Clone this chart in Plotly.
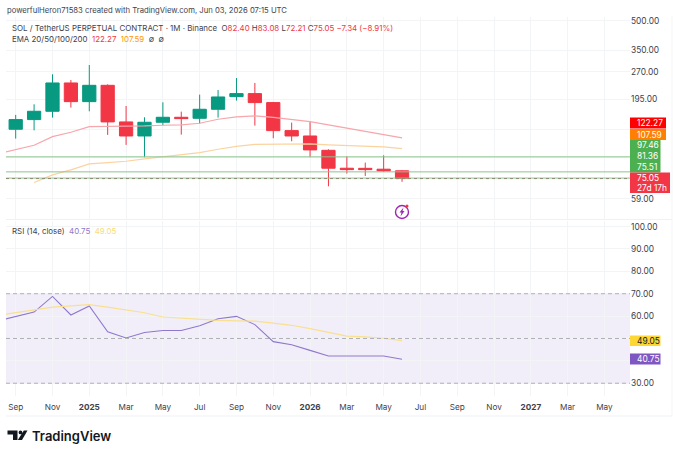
import plotly.graph_objects as go

W, H = 680, 455

# ---- data
month_labels = ["Sep","Nov","2025","Mar","May","Jul","Sep","Nov","2026","Mar","May","Jul","Sep","Nov","2027","Mar","May"]
month_positions = [0,2,4,6,8,10,12,14,16,18,20,22,24,26,28,30,32]
candle_x = list(range(22))
opens  = [135.7,152.4,168.4,236.6,189.1,230.0,148.2,125.2,147.6,156.7,154.8,172.5,200.8,208.2,186.9,133.5,125.2,105.4,85.0,84.9,84.0,82.40]
highs  = [161.2,183.1,262.5,245.0,293.6,232.8,179.5,156.7,187.6,167.7,205.7,217.5,251.0,236.6,188.4,147.0,148.8,106.7,98.1,90.9,99.3,83.08]
lows   = [121.3,134.0,156.1,176.0,168.4,126.8,112.5,97.0,142.4,127.3,145.2,156.1,191.4,141.8,121.8,117.5,97.0,68.4,79.7,77.5,81.3,72.21]
closes = [152.4,168.4,236.6,189.1,230.0,148.2,125.2,147.6,156.7,154.2,172.5,200.0,208.2,186.9,133.5,125.2,105.9,85.0,83.6,83.6,82.4,75.05]

ema20_x = list(range(-1,22))
ema20 = [100.9,106.3,112.0,124.2,130.9,140.1,140.1,140.1,141.2,142.4,142.9,145.8,153.0,157.3,159.2,156.7,152.4,148.8,142.9,137.3,132.5,127.8,122.27]
ema50_x = list(range(1,22))
ema50 = [71.6,78.5,83.3,89.5,91.0,92.4,95.0,97.7,99.7,102.6,106.7,110.6,113.3,113.8,114.2,113.8,112.5,111.5,110.6,109.8,107.59]

rsi_x = list(range(-1,22))
rsi = [57.8,59.7,61.8,68.8,60.5,64.5,53.0,50.2,52.7,53.6,53.6,55.7,58.8,59.9,56.2,48.6,47.2,44.7,42.2,42.2,42.1,42.2,40.75]
rsi_ma = [60.3,61.5,62.6,64.0,64.6,65.1,64.0,62.9,61.5,59.6,59.0,58.5,58.1,57.9,57.8,56.9,55.9,54.4,52.9,51.1,50.7,50.1,49.05]

price_ticks = [500,350,270,195,59]
price_grid = [135,97]
rsi_ticks = [100,90,80,70,60,30]
rsi_grid = [50,40]
level_lines = [97.46,81.36,75.51]
last_close = 75.05

UP, DOWN = "#089981", "#F23645"
EMA20C, EMA50C = "#F7A6AC", "#FBD3A0"
RSI_C, RSI_MA_C = "#8F78CC", "#F8E08E"
GRID = "#F3F4F6"
TXT = "#3F424B"
FONT = "Inter, 'Open Sans', sans-serif"

def px(x): return x / W
def py(y): return 1 - y / H

fig = go.Figure()
fig.add_trace(go.Candlestick(x=candle_x, open=opens, high=highs, low=lows, close=closes, xaxis="x", yaxis="y",
    whiskerwidth=0,
    increasing=dict(line=dict(color=UP, width=1), fillcolor=UP),
    decreasing=dict(line=dict(color=DOWN, width=1), fillcolor=DOWN),
    showlegend=False))
fig.add_trace(go.Scatter(x=ema20_x, y=ema20, mode="lines", line=dict(color=EMA20C, width=1.2), xaxis="x", yaxis="y"))
fig.add_trace(go.Scatter(x=ema50_x, y=ema50, mode="lines", line=dict(color=EMA50C, width=1.2), xaxis="x", yaxis="y"))
fig.add_trace(go.Scatter(x=rsi_x, y=rsi, mode="lines", line=dict(color=RSI_C, width=1.1), xaxis="x", yaxis="y2"))
fig.add_trace(go.Scatter(x=rsi_x, y=rsi_ma, mode="lines", line=dict(color=RSI_MA_C, width=1.2), xaxis="x", yaxis="y2"))

shapes = []
for v in level_lines:
    shapes.append(dict(type="line", xref="x domain", x0=0, x1=1, yref="y", y0=v, y1=v, line=dict(color="#8CC58F", width=1), layer="above"))
shapes.append(dict(type="line", xref="x domain", x0=0, x1=1, yref="y", y0=last_close, y1=last_close, line=dict(color="#8A8A70", width=1, dash="dot"), layer="above"))
# RSI zone
shapes.append(dict(type="rect", xref="x domain", x0=0, x1=1, yref="y2", y0=30, y1=70, fillcolor="rgba(126,87,194,0.10)", line=dict(width=0), layer="below"))
for v in (70, 50, 30):
    shapes.append(dict(type="line", xref="x domain", x0=0, x1=1, yref="y2", y0=v, y1=v, line=dict(color="#B0B0B8", width=1, dash="4px,3px"), layer="above"))
# pane separators
for y in (219.5, 416):
    shapes.append(dict(type="line", xref="paper", yref="paper", x0=px(6), x1=px(672), y0=py(y), y1=py(y), line=dict(color="#F0F1F3", width=1)))
shapes.append(dict(type="line", xref="paper", yref="paper", x0=px(672), x1=px(672), y0=py(16), y1=py(416), line=dict(color="#F5F5F7", width=1)))

# price label boxes
def box(y0, y1, x1, color):
    shapes.append(dict(type="rect", xref="paper", yref="paper", x0=px(630), x1=px(x1), y0=py(y0), y1=py(y1), fillcolor=color, line=dict(width=0), layer="above"))
box(117.5, 128.5, 666, "#FF0000")
box(129, 140, 666, "#FF7F00")
box(140, 172.5, 660.5, "#4CAF50")
box(172.5, 193, 670, "#F23645")
box(335.5, 346, 660.5, "#FDD835")
box(353.5, 364.5, 660.5, "#7E57C2")
# flash icon
shapes.append(dict(type="circle", xref="paper", yref="paper", x0=px(395.5), x1=px(408.5), y0=py(205.5), y1=py(218.5), line=dict(color="#9C27B0", width=1.4), fillcolor="white"))
shapes.append(dict(type="path", xref="paper", yref="paper",
    path="M %f %f L %f %f L %f %f L %f %f L %f %f L %f %f Z" % (px(403.5),py(207.5),px(399.5),py(212.5),px(401.5),py(212.5),px(400.5),py(216.5),px(404.5),py(211),px(402.5),py(211)),
    fillcolor="#9C27B0", line=dict(width=0)))
shapes.append(dict(type="circle", xref="paper", yref="paper", x0=px(405.5), x1=px(408.5), y0=py(204.5), y1=py(207.5), fillcolor="#F23645", line=dict(width=0)))
# TradingView logo
def poly(pts, c="#131722"):
    p = "M " + " L ".join("%f %f" % (px(a), py(b)) for a, b in pts) + " Z"
    shapes.append(dict(type="path", xref="paper", yref="paper", path=p, fillcolor=c, line=dict(width=0)))
poly([(7.5,430.5),(17.5,430.5),(17.5,440),(13,440),(13,434.5),(7.5,434.5)])
poly([(23.8,430.5),(27.5,430.5),(22,440),(17.8,440)])
shapes.append(dict(type="circle", xref="paper", yref="paper", x0=px(18.6), x1=px(22.4), y0=py(430.5), y1=py(434.3), fillcolor="#131722", line=dict(width=0)))

ann = []
def text(x, y, s, size=8.4, color=TXT, anchor="left", **kw):
    f = dict(size=size, color=color, family=FONT)
    f.update(kw)
    ann.append(dict(xref="paper", yref="paper", x=px(x), y=py(y), text=s, showarrow=False, xanchor=anchor, yanchor="middle", font=f))
R = "#F23645"
O = "#FF9800"
text(5, 10, "powerfulHeron71583 created with TradingView.com, Jun 03, 2026 07:15 UTC", size=7.7)
text(10, 27.5, f"SOL / TetherUS PERPETUAL CONTRACT · 1M · Binance  O<span style='color:{R}'>82.40</span> H<span style='color:{R}'>83.08</span> L<span style='color:{R}'>72.21</span> C<span style='color:{R}'>75.05</span> <span style='color:{R}'>−7.34 (−8.91%)</span>", size=7.9)
text(10, 38.5, f"EMA 20/50/100/200  <span style='color:{R}'>122.27</span>  <span style='color:{O}'>107.59</span>  ∅  ∅", size=7.9)
text(10, 230.5, f"RSI (14, close)  <span style='color:{RSI_C}'>40.75</span>  <span style='color:#F8DC7A'>49.05</span>", size=7.9)

text(634.5, 123, "122.27", color="white")
text(634.5, 134.5, "107.59", color="white")
text(634.5, 145, "97.46", color="white")
text(634.5, 156, "81.36", color="white")
text(634.5, 167, "75.51", color="white")
text(634.5, 178, "75.05", color="white")
text(634.5, 187.5, "27d 17h", color="white")
text(634.5, 341, "49.05", color="#131722")
text(634.5, 359, "40.75", color="white")
text(29.5, 435.5, "TradingView", size=13, color="#131722", weight=600)

fig.update_layout(
    width=W, height=H, autosize=False, margin=dict(l=0, r=0, t=0, b=0),
    paper_bgcolor="white", plot_bgcolor="white", showlegend=False,
    boxgap=0.28, boxgroupgap=0, shapes=shapes, annotations=ann, font=dict(family=FONT, size=8.4, color=TXT),
    xaxis=dict(domain=[6/W, 630/W], range=[-0.527, 33.39], anchor="y2", tickmode="array", tickvals=month_positions, ticktext=[f"<b>{t}</b>" if t.isdigit() else t for t in month_labels],
               showgrid=True, gridcolor=GRID, gridwidth=1, zeroline=False, showline=False, ticks="", rangeslider=dict(visible=False), tickfont=dict(size=8.2, color=TXT), ticklabelstandoff=5),
    yaxis=dict(domain=[1-219/H, 1-17/H], type="log", range=[1.6646, 2.718], side="right", anchor="free", position=630/W,
               tickmode="array", tickvals=price_ticks+price_grid, ticktext=[f"{v:.2f}" for v in price_ticks]+["",""],
               showgrid=True, gridcolor=GRID, zeroline=False, showline=False, ticks="", tickfont=dict(size=8.4, color=TXT)),
    yaxis2=dict(domain=[1-396/H, 1-221/H], range=[24.3, 102.5], side="right", anchor="free", position=630/W,
               tickmode="array", tickvals=rsi_ticks+rsi_grid, ticktext=[f"{v:.2f}" for v in rsi_ticks]+["",""],
               showgrid=True, gridcolor=GRID, zeroline=False, showline=False, ticks="", tickfont=dict(size=8.4, color=TXT)),
)
fig.write_html("out.html", config={"displayModeBar": False}, post_script="document.body.style.margin='0';")
